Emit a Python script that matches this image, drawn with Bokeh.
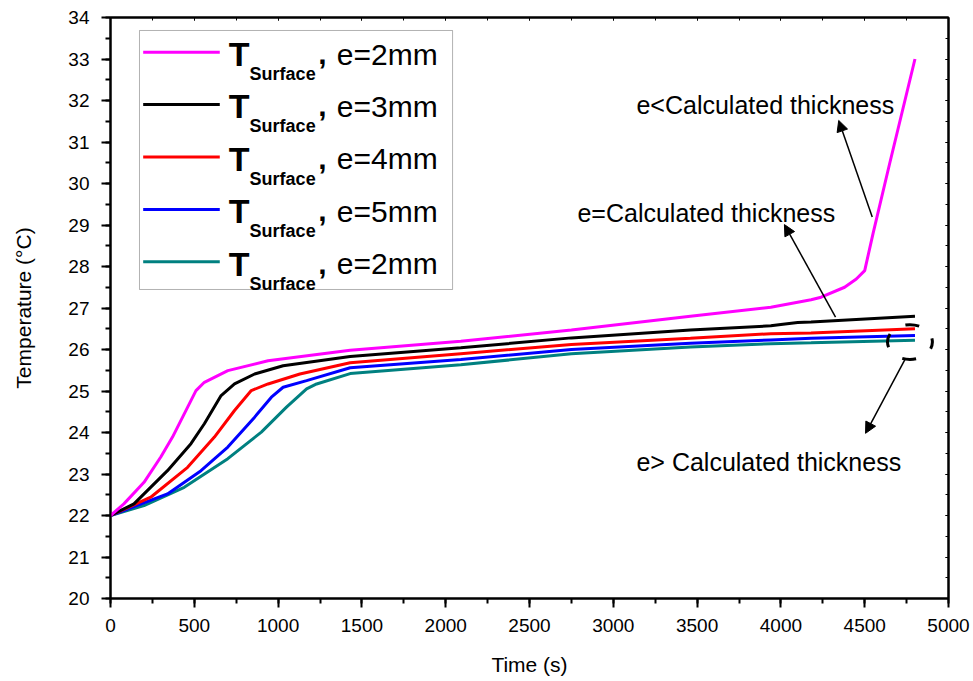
from bokeh.plotting import figure
from bokeh.models import (Range1d, LinearAxis, Label, Arrow, NormalHead, BoxAnnotation,
                          SingleIntervalTicker, ColumnDataSource, CustomLabelingPolicy)
from bokeh.embed import file_html
from bokeh.resources import INLINE

# ---------------- data ----------------
t_2mm = [0, 80, 200, 300, 370, 440, 510, 560, 700, 940, 1430, 2090, 2750, 3460,
         3940, 4180, 4240, 4380, 4450, 4500, 4550, 4650, 4800]
T_2mm = [22.0, 22.28, 22.80, 23.41, 23.89, 24.45, 25.01, 25.21, 25.49, 25.73, 25.98,
         26.20, 26.47, 26.80, 27.02, 27.20, 27.26, 27.50, 27.70, 27.90, 28.80, 30.50, 33.0]

t_3mm = [0, 140, 340, 480, 560, 660, 740, 860, 1030, 1430, 2090, 2750, 3460, 3940,
         4000, 4100, 4180, 4800]
T_3mm = [22.0, 22.28, 23.08, 23.73, 24.21, 24.89, 25.17, 25.41, 25.61, 25.83, 26.04,
         26.28, 26.47, 26.57, 26.60, 26.65, 26.66, 26.80]

t_4mm = [0, 240, 460, 620, 740, 840, 940, 1130, 1430, 2090, 2750, 3460, 3940, 4180, 4800]
T_4mm = [22.0, 22.44, 23.16, 23.89, 24.53, 25.01, 25.17, 25.41, 25.68, 25.90, 26.12,
         26.27, 26.38, 26.40, 26.50]

t_5mm = [0, 340, 540, 700, 860, 960, 1030, 1170, 1430, 2090, 2750, 3460, 3940, 4180, 4800]
T_5mm = [22.0, 22.52, 23.08, 23.65, 24.37, 24.85, 25.09, 25.25, 25.56, 25.76, 26.00,
         26.15, 26.23, 26.27, 26.34]

t_2mm_b = [0, 200, 440, 700, 900, 1050, 1170, 1230, 1430, 2090, 2750, 3460, 3940, 4180, 4800]
T_2mm_b = [22.0, 22.24, 22.68, 23.37, 24.01, 24.61, 25.05, 25.17, 25.42, 25.63, 25.90,
           26.06, 26.14, 26.16, 26.22]

legend_labels = ["e=2mm", "e=3mm", "e=4mm", "e=5mm", "e=2mm"]
colors = ["#FF00FF", "#000000", "#FF0000", "#0000FF", "#008080"]

x_ticks_interval = 500
y_ticks_interval = 1

# annotation geometry (data units)
ann_texts = ["e<Calculated thickness", "e=Calculated thickness", "e> Calculated thickness"]
ann_text_x = [3138, 2786, 3138]
ann_text_y = [31.88, 29.28, 23.28]
arr_x0 = [4545, 4326, 4743]
arr_y0 = [29.19, 26.78, 25.78]
arr_x1 = [4345, 4021, 4505]
arr_y1 = [31.52, 29.01, 23.98]
ell_x, ell_y, ell_w, ell_h = [4770], [26.18], [268], [0.84]

# legend geometry (data units)
leg_box = dict(left=173, right=2041, bottom=27.446, top=33.687)
leg_line_x0, leg_line_x1 = 195, 652
leg_line_y0 = 33.164
leg_T_x, leg_sub_x, leg_comma_x, leg_e_x = 706, 830, 1240, 1350
leg_base_y0, leg_sub_y0, leg_pitch = 33.12, 32.64, 1.2627

FONT = "Liberation Sans"

p = figure(width=970, height=678, x_range=Range1d(0, 5000), y_range=Range1d(20, 34),
           output_backend="svg", toolbar_location=None,
           min_border_left=110, min_border_right=22, min_border_top=17, min_border_bottom=80)
p.xgrid.visible = False
p.ygrid.visible = False
p.outline_line_color = "black"
p.outline_line_width = 2
p.background_fill_color = "white"

xa = p.xaxis[0]
xa.ticker = SingleIntervalTicker(interval=x_ticks_interval, num_minor_ticks=2)
ya = p.yaxis[0]
ya.ticker = SingleIntervalTicker(interval=y_ticks_interval, num_minor_ticks=2)
for ax, lab in ((xa, "Time (s)"), (ya, "Temperature (°C)")):
    ax.axis_label = lab
    ax.axis_label_text_font = FONT
    ax.axis_label_text_font_size = "21px"
    ax.axis_label_text_font_style = "normal"
    ax.axis_label_text_color = "black"
    ax.major_label_text_font = FONT
    ax.major_label_text_font_size = "19px"
    ax.major_label_text_color = "black"
    ax.axis_line_width = 2
    ax.major_tick_line_width = 2
    ax.minor_tick_line_width = 2
    ax.major_tick_in = 0
    ax.major_tick_out = 9
    ax.minor_tick_in = 0
    ax.minor_tick_out = 5
xa.major_label_standoff = 11
xa.axis_label_standoff = 18
ya.major_label_standoff = 12
ya.axis_label_standoff = 30

top = LinearAxis(ticker=SingleIntervalTicker(interval=x_ticks_interval, num_minor_ticks=2),
                 major_tick_in=3, major_tick_out=0, minor_tick_in=3, minor_tick_out=0,
                 major_label_policy=CustomLabelingPolicy(code="return new Set()"),
                 major_label_standoff=0,
                 axis_line_width=2, major_tick_line_width=1, minor_tick_line_width=1)
right = LinearAxis(ticker=SingleIntervalTicker(interval=y_ticks_interval, num_minor_ticks=2),
                   major_tick_in=3, major_tick_out=0, minor_tick_in=3, minor_tick_out=0,
                   major_label_policy=CustomLabelingPolicy(code="return new Set()"),
                   major_label_standoff=0,
                   axis_line_width=2, major_tick_line_width=1, minor_tick_line_width=1)
p.add_layout(top, "above")
p.add_layout(right, "right")

# legend frame
p.add_layout(BoxAnnotation(**leg_box, fill_color="white", fill_alpha=1,
                           line_color="black", line_width=1, level="underlay"))

series = [(t_2mm, T_2mm), (t_3mm, T_3mm), (t_4mm, T_4mm), (t_5mm, T_5mm), (t_2mm_b, T_2mm_b)]
for i in reversed(range(5)):
    t, T = series[i]
    src = ColumnDataSource(dict(t=t, T=T))
    p.line("t", "T", source=src, line_color=colors[i], line_width=3)

# legend samples
leg_y = [leg_line_y0 - leg_pitch * i for i in range(5)]
p.segment(x0=[leg_line_x0] * 5, x1=[leg_line_x1] * 5, y0=leg_y, y1=leg_y,
          line_color=colors, line_width=3)

for i, lab in enumerate(legend_labels):
    yb = leg_base_y0 - leg_pitch * i
    ys = leg_sub_y0 - leg_pitch * i
    p.add_layout(Label(x=leg_T_x, y=yb, text="T", text_font=FONT, text_font_size="34px",
                       text_font_style="bold", text_baseline="alphabetic", text_color="black"))
    p.add_layout(Label(x=leg_sub_x, y=ys, text="Surface", text_font=FONT, text_font_size="18px",
                       text_font_style="bold", text_baseline="alphabetic", text_color="black"))
    p.add_layout(Label(x=leg_comma_x, y=yb, text=",", text_font=FONT, text_font_size="30px",
                       text_font_style="bold", text_baseline="alphabetic", text_color="black"))
    p.add_layout(Label(x=leg_e_x, y=yb, text=lab, text_font=FONT, text_font_size="30px",
                       text_baseline="alphabetic", text_color="black"))

for tx, x, y in zip(ann_texts, ann_text_x, ann_text_y):
    p.add_layout(Label(x=x, y=y, text=tx, text_font=FONT, text_font_size="25px",
                       text_baseline="middle", text_color="black"))

for x0, y0, x1, y1 in zip(arr_x0, arr_y0, arr_x1, arr_y1):
    p.add_layout(Arrow(end=NormalHead(size=11, fill_color="black", line_color="black"),
                       x_start=x0, y_start=y0, x_end=x1, y_end=y1,
                       line_color="black", line_width=1.5))

p.ellipse(x=ell_x, y=ell_y, width=ell_w, height=ell_h, fill_color=None,
          line_color="black", line_width=3, line_dash="14 18", line_dash_offset=7)

open("out.html", "w").write(file_html(p, INLINE))
